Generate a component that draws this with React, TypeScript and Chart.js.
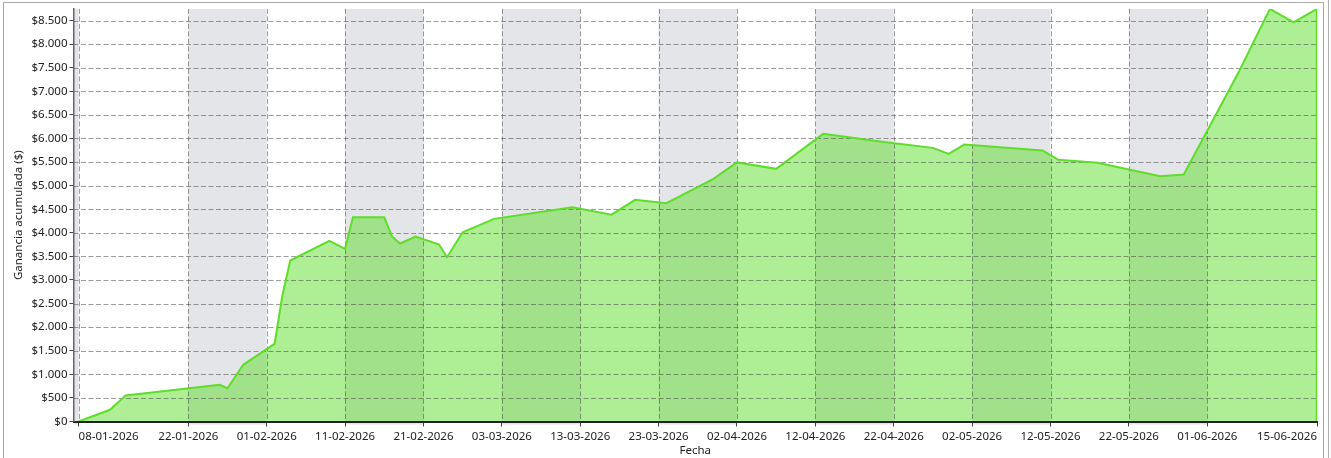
import React, { useEffect, useRef } from 'react';
import { Chart, registerables } from 'chart.js';

Chart.register(...registerables);

// ---- Data ----
const dates = [
  '08-01-2026', '12-01-2026', '14-01-2026', '26-01-2026', '27-01-2026', '29-01-2026',
  '02-02-2026', '03-02-2026', '04-02-2026', '09-02-2026', '11-02-2026', '12-02-2026',
  '16-02-2026', '17-02-2026', '18-02-2026', '20-02-2026', '23-02-2026', '24-02-2026',
  '26-02-2026', '02-03-2026', '12-03-2026', '17-03-2026', '20-03-2026', '24-03-2026',
  '30-03-2026', '02-04-2026', '07-04-2026', '13-04-2026', '21-04-2026', '27-04-2026',
  '29-04-2026', '01-05-2026', '11-05-2026', '13-05-2026', '18-05-2026', '26-05-2026',
  '29-05-2026', '05-06-2026', '09-06-2026', '12-06-2026', '15-06-2026',
];
const values = [
  0, 248, 551, 778, 706, 1202,
  1647, 2670, 3412, 3830, 3660, 4330,
  4330, 3921, 3773, 3921, 3752, 3483,
  4013, 4296, 4542, 4384, 4699, 4627,
  5144, 5493, 5356, 6098, 5920, 5801,
  5674, 5871, 5744, 5547, 5484, 5199,
  5235, 7404, 8747, 8463, 8747,
];
const xTickLabels = [
  '08-01-2026', '22-01-2026', '01-02-2026', '11-02-2026', '21-02-2026', '03-03-2026',
  '13-03-2026', '23-03-2026', '02-04-2026', '12-04-2026', '22-04-2026', '02-05-2026',
  '12-05-2026', '22-05-2026', '01-06-2026', '15-06-2026',
];
const yTickValues = [
  0, 500, 1000, 1500, 2000, 2500, 3000, 3500, 4000,
  4500, 5000, 5500, 6000, 6500, 7000, 7500, 8000, 8500,
];
const shadedBands = [
  ['02-01-2026', '08-01-2026'],
  ['22-01-2026', '01-02-2026'],
  ['11-02-2026', '21-02-2026'],
  ['03-03-2026', '13-03-2026'],
  ['23-03-2026', '02-04-2026'],
  ['12-04-2026', '22-04-2026'],
  ['02-05-2026', '12-05-2026'],
  ['22-05-2026', '01-06-2026'],
];
const xTitle = 'Fecha';
const yTitle = 'Ganancia acumulada ($)';

// ---- Helpers ----
const DAY = 86400000;
const toMs = (s: string) => {
  const [d, m, y] = s.split('-').map(Number);
  return Date.UTC(y, m - 1, d);
};
const pad2 = (n: number) => String(n).padStart(2, '0');
const fmtDate = (ms: number) => {
  const dt = new Date(ms);
  return `${pad2(dt.getUTCDate())}-${pad2(dt.getUTCMonth() + 1)}-${dt.getUTCFullYear()}`;
};
const fmtMoney = (v: number) =>
  '$' + String(Math.round(v)).replace(/\B(?=(\d{3})+(?!\d))/g, '.');

const LINE = 'rgb(94, 222, 42)';
const FILL = 'rgba(94, 222, 42, 0.5)';
const FONT = { family: '"Noto Sans", "Open Sans", sans-serif', size: 11.5 };

const decorPlugin = {
  id: 'decor',
  beforeDatasetsDraw(chart: any) {
    const { ctx, chartArea, scales } = chart;
    const { left, right, top, bottom } = chartArea;
    const x = scales.x;
    ctx.save();
    ctx.fillStyle = '#e4e5e8';
    shadedBands.forEach(([a, b]) => {
      const x1 = Math.max(left, x.getPixelForValue(toMs(a)));
      const x2 = Math.min(right, x.getPixelForValue(toMs(b)));
      if (x2 > x1) ctx.fillRect(x1, top, x2 - x1, bottom - top + 3);
    });
    ctx.restore();
  },
  beforeDatasetDraw(chart: any, args: any) {
    if (args.index !== 0) return;
    const { ctx, chartArea, scales } = chart;
    const { left, right, top, bottom } = chartArea;
    ctx.save();
    ctx.beginPath();
    ctx.rect(left, top, right - left, bottom - top);
    ctx.clip();
    ctx.strokeStyle = 'rgba(60, 60, 60, 0.5)';
    ctx.lineWidth = 1;
    ctx.setLineDash([5, 2.5]);
    scales.y.ticks.forEach((t: any) => {
      const py = Math.round(scales.y.getPixelForValue(t.value)) + 0.5;
      ctx.beginPath();
      ctx.moveTo(left, py);
      ctx.lineTo(right, py);
      ctx.stroke();
    });
    scales.x.ticks.forEach((t: any) => {
      const px = Math.round(scales.x.getPixelForValue(t.value)) + 0.5;
      ctx.beginPath();
      ctx.moveTo(px, top);
      ctx.lineTo(px, bottom);
      ctx.stroke();
    });
    ctx.restore();
  },
  afterDatasetsDraw(chart: any) {
    const { ctx, scales } = chart;
    const lx = scales.x.getPixelForValue(toMs(dates[dates.length - 1]));
    const ly = scales.y.getPixelForValue(values[values.length - 1]);
    const by = scales.y.getPixelForValue(0);
    ctx.save();
    ctx.strokeStyle = LINE;
    ctx.lineWidth = 1.5;
    ctx.beginPath();
    ctx.moveTo(lx - 0.5, ly);
    ctx.lineTo(lx - 0.5, by);
    ctx.stroke();
    ctx.restore();
  },
};

export default function App() {
  const ref = useRef<HTMLCanvasElement | null>(null);

  useEffect(() => {
    if (!ref.current) return;
    const pts = dates.map((d, i) => ({ x: toMs(d), y: values[i] }));
    const chart = new Chart(ref.current, {
      type: 'line',
      data: {
        datasets: [
          {
            data: pts,
            borderColor: LINE,
            borderWidth: 2,
            pointRadius: 0,
            fill: false,
            tension: 0,
          },
          {
            data: pts,
            borderWidth: 0,
            borderColor: 'rgba(0,0,0,0)',
            backgroundColor: FILL,
            pointRadius: 0,
            fill: 'origin',
            tension: 0,
          },
        ],
      },
      options: {
        animation: false,
        responsive: false,
        events: [],
        layout: { padding: { left: 0, right: 14, top: 8, bottom: 0 } },
        plugins: { legend: { display: false }, tooltip: { enabled: false } },
        scales: {
          x: {
            type: 'linear',
            min: toMs(dates[0]) - 0.65 * DAY,
            max: toMs(dates[dates.length - 1]),
            afterBuildTicks: (scale: any) => {
              scale.ticks = xTickLabels.map((l) => ({ value: toMs(l) }));
            },
            afterFit: (scale: any) => {
              scale.height = 36.5;
            },
            ticks: {
              autoSkip: false,
              maxRotation: 0,
              align: 'inner',
              padding: 3,
              color: '#222',
              font: FONT,
              callback: (v: any) => fmtDate(Number(v)),
            },
            grid: { drawOnChartArea: false, tickLength: 5, tickColor: '#444', z: 1 },
            border: { color: '#222', width: 2, z: 1 },
            title: { display: true, text: xTitle, color: '#222', font: FONT, padding: { top: 0, bottom: 0 } },
          },
          y: {
            type: 'linear',
            min: 0,
            max: Math.max(...values),
            afterBuildTicks: (scale: any) => {
              scale.ticks = yTickValues.map((v) => ({ value: v }));
            },
            afterFit: (scale: any) => {
              scale.width = 73.5;
            },
            ticks: {
              autoSkip: false,
              padding: 2,
              color: '#222',
              font: FONT,
              callback: (v: any) => fmtMoney(Number(v)),
            },
            grid: { drawOnChartArea: false, tickLength: 4, tickColor: '#444', z: 1 },
            border: { color: '#666', width: 1.5, z: 1 },
            title: { display: true, text: yTitle, color: '#222', font: FONT, padding: { top: 12, bottom: 0 } },
          },
        },
      },
      plugins: [decorPlugin],
    } as any);
    return () => chart.destroy();
  }, []);

  return (
    <div style={{ position: 'relative', width: 1331, height: 458, overflow: 'hidden', background: '#fff' }}>
      <style>{'body{margin:0;}'}</style>
      <div
        style={{
          position: 'absolute', left: 3, top: 2, width: 1319, height: 520,
          border: '1px solid #a8a8a8', boxSizing: 'content-box',
        }}
      />
      <div style={{ position: 'absolute', left: 1328, top: 0, width: 1, height: 458, background: '#b0b0b0' }} />
      <canvas ref={ref} width={1331} height={458} style={{ position: 'absolute', left: 0, top: 0 }} />
    </div>
  );
}
